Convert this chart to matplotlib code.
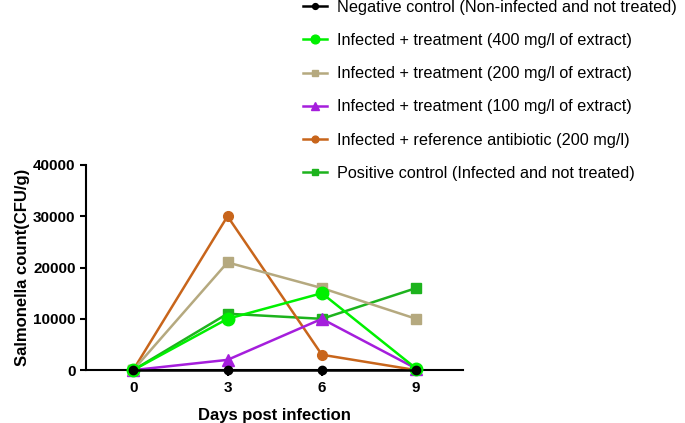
import matplotlib.pyplot as plt

plt.rcParams['font.family'] = ['Liberation Sans', 'DejaVu Sans']

days = [0, 3, 6, 9]
negative = [0, 0, 0, 0]
extract_400 = [0, 10000, 15000, 300]
extract_200 = [0, 21000, 16000, 10000]
extract_100 = [0, 2000, 10000, 300]
antibiotic = [0, 30000, 3000, 0]
positive = [0, 11000, 10000, 16000]

labels = [
    "Negative control (Non-infected and not treated)",
    "Infected + treatment (400 mg/l of extract)",
    "Infected + treatment (200 mg/l of extract)",
    "Infected + treatment (100 mg/l of extract)",
    "Infected + reference antibiotic (200 mg/l)",
    "Positive control (Infected and not treated)",
]

fig = plt.figure(figsize=(6.85, 4.23), dpi=100)
ax = fig.add_axes([0.1255, 0.125, 0.551, 0.485])

lw = 1.8
kw = dict(linewidth=lw, clip_on=False)
h_neg, = ax.plot(days, negative, color="black", marker="o", markersize=6, zorder=6, **kw)
h_pos, = ax.plot(days, positive, color="#1DB31D", marker="s", markersize=7, zorder=3, **kw)
h_ab, = ax.plot(days, antibiotic, color="#C8651B", marker="o", markersize=7, zorder=3, **kw)
h_100, = ax.plot(days, extract_100, color="#A51EDC", marker="^", markersize=8, zorder=3, **kw)
h_200, = ax.plot(days, extract_200, color="#B5A97F", marker="s", markersize=7, zorder=3, **kw)
h_400, = ax.plot(days, extract_400, color="#00F000", marker="o", markersize=9, zorder=5, **kw)

ax.set_xlim(-1.5, 10.5)
ax.set_ylim(0, 40000)
ax.set_xticks(days)
ax.set_yticks([0, 10000, 20000, 30000, 40000])
for s in ["top", "right"]:
    ax.spines[s].set_visible(False)
for s in ["left", "bottom"]:
    ax.spines[s].set_linewidth(1.5)
ax.tick_params(width=1.5, length=4, labelsize=11)
for t in ax.get_xticklabels() + ax.get_yticklabels():
    t.set_fontweight("bold")

ax.set_xlabel("Days post infection", fontsize=12, fontweight="bold", labelpad=10)
ax.set_ylabel("Salmonella count(CFU/g)", fontsize=12, fontweight="bold", labelpad=2)

handles = [h_neg, h_400, h_200, h_100, h_ab, h_pos]
fig.legend(handles, labels, loc="upper left", bbox_to_anchor=(0.421, 1.035),
           frameon=False, fontsize=11.7, handlelength=1.5, handletextpad=0.6,
           labelspacing=1.12, markerscale=0.7)

fig.savefig("out.png", dpi=100)
